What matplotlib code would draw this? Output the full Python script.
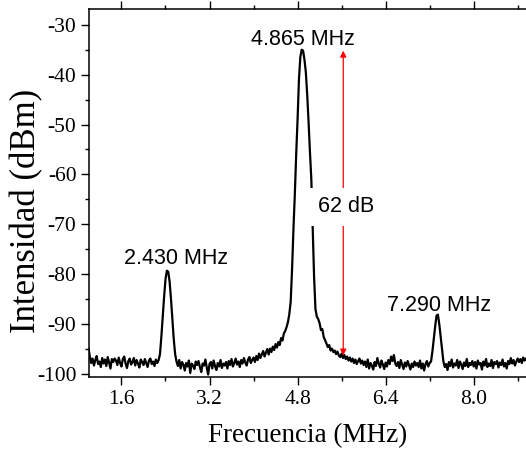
import numpy as np
import matplotlib
matplotlib.use("Agg")
import matplotlib.pyplot as plt

#spectrum, one row = 0.5 MHz (20 points, 0.025 MHz apart)
FREQ_START = 1.0
FREQ_STEP = 0.025
DBM_ROWS = [
    [-94.8, -96.5, -97.8, -96.9, -98.3, -97.2, -96.4, -98.0, -97.5, -98.6, -96.8, -97.9, -97.1, -98.4, -96.6, -97.7, -98.9, -97.0, -97.6, -96.9],
    [-97.3, -98.2, -96.7, -97.8, -98.5, -97.0, -96.5, -97.9, -98.8, -97.4, -96.9, -98.1, -97.6, -96.8, -98.3, -97.2, -97.9, -98.7, -97.1, -97.6],
    [-98.2, -97.0, -97.8, -98.6, -97.3, -96.9, -98.0, -97.5, -98.4, -97.1, -97.8, -97.2, -96.0, -92.5, -88.5, -84.5, -81.0, -79.3, -79.5, -81.5],
    [-85.0, -89.0, -93.0, -96.0, -97.5, -98.4, -97.2, -98.9, -97.6, -98.1, -99.3, -97.8, -98.5, -97.3, -99.8, -97.9, -98.3, -99.0, -97.5, -98.2],
    [-97.4, -98.6, -99.6, -97.9, -98.3, -97.1, -98.7, -100.1, -98.0, -97.6, -98.9, -97.3, -98.4, -99.2, -97.8, -98.5, -97.2, -98.8, -97.9, -98.3],
    [-97.6, -98.9, -97.4, -98.2, -97.0, -98.5, -97.8, -96.9, -98.1, -97.5, -98.6, -97.2, -97.9, -96.8, -97.7, -98.3, -97.1, -96.6, -97.8, -97.2],
    [-96.7, -97.6, -96.4, -97.2, -95.9, -96.8, -96.1, -95.4, -96.5, -95.7, -95.0, -96.1, -94.9, -95.6, -94.5, -95.2, -94.0, -94.7, -93.6, -94.2],
    [-92.8, -93.3, -91.9, -91.4, -90.6, -89.6, -88.0, -85.5, -79.0, -71.0, -64.0, -56.0, -49.0, -41.0, -36.5, -35.0, -35.2, -37.0, -39.5, -44.0],
    [-49.5, -55.5, -61.0, -71.0, -80.5, -87.0, -88.5, -89.0, -89.8, -91.2, -91.0, -92.6, -93.2, -93.9, -94.6, -94.2, -95.3, -94.9, -95.6, -95.3],
    [-96.0, -95.5, -96.3, -96.6, -95.9, -96.8, -96.2, -97.0, -96.5, -97.3, -96.7, -97.5, -96.9, -97.8, -97.1, -98.0, -97.4, -96.9, -97.9, -97.3],
    [-98.2, -97.5, -98.6, -97.1, -98.9, -97.8, -98.3, -99.1, -97.6, -98.4, -96.8, -97.9, -98.7, -97.3, -98.1, -99.0, -97.7, -98.5, -97.2, -98.0],
    [-96.5, -97.4, -96.2, -97.9, -98.4, -97.6, -98.8, -97.2, -98.1, -99.0, -97.7, -98.5, -97.4, -98.2, -99.1, -97.9, -98.6, -97.5, -98.3, -97.8],
    [-98.6, -97.3, -98.9, -97.9, -99.3, -98.0, -97.4, -98.5, -97.8, -97.5, -95.5, -93.0, -90.5, -88.3, -88.1, -90.0, -92.5, -95.0, -97.5, -98.6],
    [-98.0, -99.2, -97.6, -98.4, -97.1, -98.7, -97.9, -98.3, -97.2, -98.8, -97.5, -98.1, -99.0, -97.7, -98.4, -97.0, -98.6, -97.8, -98.2, -97.4],
    [-98.5, -97.6, -98.9, -97.3, -98.1, -97.8, -99.1, -97.5, -98.3, -97.0, -98.6, -97.9, -98.4, -97.2, -98.8, -97.6, -98.0, -97.4, -98.7, -97.7],
    [-98.2, -97.1, -98.5, -97.8, -98.9, -97.4, -98.0, -96.8, -97.9, -97.2, -98.3, -97.5, -96.9, -97.6, -97.0, -97.8, -96.7, -97.3, -96.9, -97.4],
]

#peak labels
PEAK_LABELS = ["2.430 MHz", "4.865 MHz", "7.290 MHz"]
PEAK_LABEL_X = [2.6, 4.89, 7.37]
PEAK_LABEL_Y = [-77.9, -34.0, -87.3]

#62 dB span
SPAN_X = 5.63
SPAN_TOP = -35.2
SPAN_BOTTOM = -96.3
SPAN_TEXT = "62 dB"

XTICKS = [1.6, 3.2, 4.8, 6.4, 8.0]
YTICKS = [-100, -90, -80, -70, -60, -50, -40, -30]

dbm = np.concatenate([np.array(r) for r in DBM_ROWS])
freq = FREQ_START + FREQ_STEP * np.arange(len(dbm))

plt.rcParams["axes.unicode_minus"] = False
serif = "Liberation Serif"
sans = "Liberation Sans"

fig = plt.figure(figsize=(5.26, 4.51), dpi=100)
ax = fig.add_axes([89 / 526, 74 / 451, 437.5 / 526, 368 / 451])

ax.plot(freq, dbm, color="black", lw=1.6)

#peak annotations
for lab, x, y in zip(PEAK_LABELS, PEAK_LABEL_X, PEAK_LABEL_Y):
    ax.text(x, y, lab, ha="center", va="baseline", fontsize=15.5, family=sans)

#double arrow for the dynamic range
ax.annotate("", xy=(SPAN_X, SPAN_TOP), xytext=(SPAN_X, SPAN_BOTTOM),
            arrowprops=dict(arrowstyle="<|-|>", color="red", lw=0.9,
                            mutation_scale=9, shrinkA=0, shrinkB=0))
ax.text(SPAN_X + 0.06, -67.6, SPAN_TEXT, ha="center", va="baseline",
        fontsize=15.5, family=sans, zorder=5,
        bbox=dict(boxstyle="square,pad=0.4", fc="white", ec="none"))

ax.set_xlim(1.01, 8.96)
ax.set_ylim(-100.6, -26.85)
ax.set_xticks(XTICKS)
ax.set_xticks([2.4, 4.0, 5.6, 7.2, 8.8], minor=True)
ax.set_xticklabels(["%.1f" % t for t in XTICKS])
ax.set_yticks(YTICKS)
ax.set_yticks([-95, -85, -75, -65, -55, -45, -35], minor=True)
ax.set_yticklabels(["%d" % t for t in YTICKS])

ax.tick_params(which="major", direction="out", length=6, width=1, pad=3,
               labelsize=15.5, top=True)
ax.tick_params(which="minor", direction="out", length=3, width=1, top=True)
for lbl in ax.get_xticklabels() + ax.get_yticklabels():
    lbl.set_family(serif)
for s in ax.spines.values():
    s.set_linewidth(1.1)

ax.set_xlabel("Frecuencia (MHz)", fontsize=19.5, family=serif, labelpad=10.5)
ax.set_ylabel("Intensidad (dBm)", fontsize=25, family=serif)
ax.yaxis.set_label_coords(-0.105, 0.45)

fig.savefig("out.png", dpi=100)
